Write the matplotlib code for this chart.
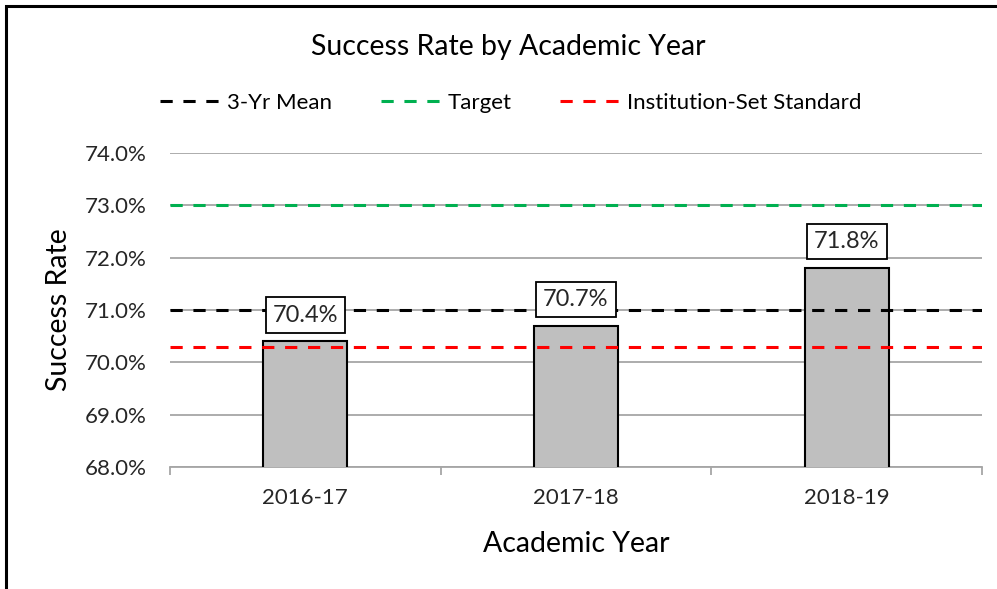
import matplotlib.pyplot as plt
from matplotlib.patches import Rectangle
from matplotlib.lines import Line2D
from matplotlib.ticker import FuncFormatter, MultipleLocator

plt.rcParams['font.family'] = ['Lato', 'DejaVu Sans']

# data
years = ['2016-17', '2017-18', '2018-19']
success = [70.4, 70.7, 71.8]
mean_3yr = 71.0
target = 73.0
iss = 70.3

fig = plt.figure(figsize=(9.97, 5.89), dpi=100)
ax = fig.add_axes([170 / 997, 1 - 467 / 589, 812 / 997, 314 / 589])

x = list(range(len(years)))
ax.bar(x, success, width=0.31, color='#BFBFBF', edgecolor='black', linewidth=1.5, zorder=3)

# reference lines across the whole plot area
ax.axhline(mean_3yr, color='black', lw=2.2, dashes=(4, 3.5), zorder=4)
ax.axhline(target, color='#00B050', lw=2.2, dashes=(4, 3.5), zorder=4)
ax.axhline(iss, color='#FF0000', lw=2.2, dashes=(4, 3.5), zorder=4)

# boxed value labels
for xi, v in zip(x, success):
    ax.annotate(f'{v:.1f}%', (xi, v), xytext=(0, 19), textcoords='offset points',
                ha='center', va='center', fontsize=17, color='#262626', zorder=6,
                bbox=dict(boxstyle='square,pad=0.3', fc='white', ec='black', lw=1.3))

ax.set_xlim(-0.5, 2.5)
ax.set_ylim(68, 74)
ax.yaxis.set_major_locator(MultipleLocator(1))
ax.yaxis.set_major_formatter(FuncFormatter(lambda v, p: f'{v:.1f}%'))
ax.grid(axis='y', color='#A6A6A6', lw=1.3, zorder=0)
ax.set_axisbelow(True)

for s in ['top', 'right', 'left']:
    ax.spines[s].set_visible(False)
ax.spines['bottom'].set_color('#A6A6A6')
ax.spines['bottom'].set_linewidth(1.3)

ax.set_xticks(x)
ax.set_xticklabels(years)
ax.set_xticks([-0.5, 0.5, 1.5, 2.5], minor=True)
ax.tick_params(axis='x', which='major', length=0, pad=15, labelsize=16, labelcolor='#262626')
ax.tick_params(axis='x', which='minor', length=6, width=1.3, color='#A6A6A6')
ax.tick_params(axis='y', length=0, pad=17, labelsize=16, labelcolor='#262626')

ax.set_xlabel('Academic Year', fontsize=20.5, labelpad=17)
ax.set_ylabel('Success Rate', fontsize=20.5, labelpad=9)

fig.text(508 / 997, 1 - 47 / 589, 'Success Rate by Academic Year', ha='center', va='center', fontsize=20.5)

handles = [Line2D([], [], color='black', lw=2.2, dashes=(4, 3.5)),
           Line2D([], [], color='#00B050', lw=2.2, dashes=(4, 3.5)),
           Line2D([], [], color='#FF0000', lw=2.2, dashes=(4, 3.5))]
fig.legend(handles, ['3-Yr Mean', 'Target', 'Institution-Set Standard'], loc='center',
           bbox_to_anchor=(511 / 997, 1 - 103 / 589), ncol=3, frameon=False, fontsize=16,
           handlelength=2.8, handletextpad=0.2, columnspacing=2.2)

# chart border (cropped on the right and bottom)
fig.patches.append(Rectangle((6 / 997, -0.05), 1.1, 1 - 6 / 589 + 0.05, transform=fig.transFigure,
                             fill=False, ec='black', lw=2.2))

fig.savefig('out.png', dpi=100)
